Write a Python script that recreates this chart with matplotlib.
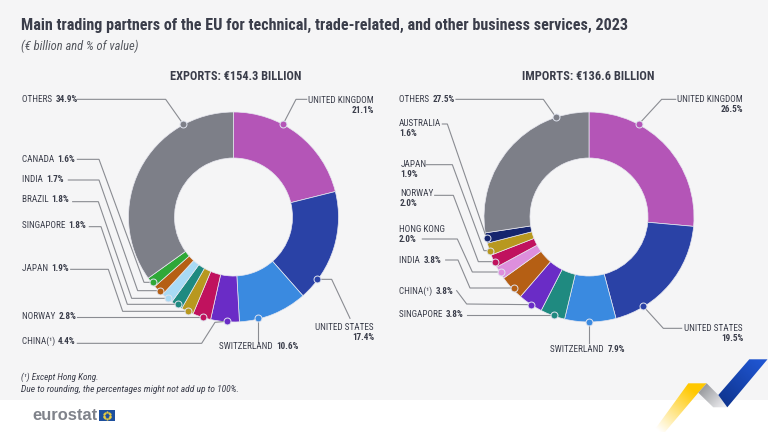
import matplotlib
matplotlib.use('Agg')
import matplotlib.pyplot as plt
from matplotlib import font_manager
from matplotlib.colors import to_rgb
from matplotlib.patches import Polygon, Rectangle
import numpy as np

# Datos
exp_labels = ['UNITED KINGDOM', 'UNITED STATES', 'SWITZERLAND', 'CHINA', 'NORWAY', 'JAPAN',
              'SINGAPORE', 'BRAZIL', 'INDIA', 'CANADA', 'OTHERS']
exp_values = [21.1, 17.4, 10.6, 4.4, 2.8, 1.9, 1.8, 1.8, 1.7, 1.6, 34.9]
exp_colors = ['#b455b7', '#2a42a6', '#3a8ae0', '#6a2cc6', '#c0125e', '#b8981f',
              '#1f8a80', '#a8daf5', '#b55f14', '#2fa838', '#7d7f88']

imp_labels = ['UNITED KINGDOM', 'UNITED STATES', 'SWITZERLAND', 'SINGAPORE', 'CHINA', 'INDIA',
              'HONG KONG', 'NORWAY', 'JAPAN', 'AUSTRALIA', 'OTHERS']
imp_values = [26.5, 19.5, 7.9, 3.8, 3.8, 3.8, 2.0, 2.0, 1.9, 1.6, 27.5]
imp_colors = ['#b455b7', '#2a42a6', '#3a8ae0', '#1f8a80', '#6a2cc6', '#b55f14',
              '#dd8fdc', '#c0125e', '#b8981f', '#16256e', '#7d7f88']

W, H = 768, 432
installed = {f.name for f in font_manager.fontManager.ttflist}
narrow = 'Lato'
for candidate in ['Roboto Condensed', 'Open Sans Condensed', 'Liberation Sans Narrow', 'Lato']:
    if candidate in installed:
        narrow = candidate
        break
plt.rcParams['font.family'] = [narrow, 'DejaVu Sans']
DARK = '#3a3d4a'
LINE = '#8a8c92'

fig = plt.figure(figsize=(W / 100, H / 100), dpi=100, facecolor='white')
renderer = fig.canvas.get_renderer()
page = fig.add_axes([0, 0, 1, 1])
page.set_xlim(0, W)
page.set_ylim(H, 0)
page.axis('off')
page.add_patch(Rectangle((0, 0), W, 400, color='#f5f5f6', lw=0))


def donut(cx, cy, values, colors):
    r = 105
    ax = fig.add_axes([(cx - r) / W, 1 - (cy + r) / H, 2 * r / W, 2 * r / H])
    ax.pie(values, colors=colors, startangle=90, counterclock=False, radius=1,
           wedgeprops=dict(width=46 / 105, edgecolor='#e8e8f0', linewidth=0.5))
    ax.set_xlim(-1, 1)
    ax.set_ylim(-1, 1)
    ax.set_zorder(1)


donut(233.5, 217, exp_values, exp_colors)
donut(589, 217, imp_values, imp_colors)

overlay = fig.add_axes([0, 0, 1, 1], zorder=2)
overlay.set_xlim(0, W)
overlay.set_ylim(H, 0)
overlay.axis('off')
overlay.patch.set_alpha(0)


def leader(points, color, off=0):
    xs = [off + p[0] / 3 for p in points]
    ys = [80 + p[1] / 3 for p in points]
    overlay.plot(xs, ys, color=LINE, lw=0.8, solid_joinstyle='miter', zorder=1)
    overlay.plot(xs[-1], ys[-1], 'o', ms=5, mfc=color, mec='#dfe3ee', mew=0.7, zorder=2)


# lineas guia (medidas sobre el zoom 3x)
exp_paths = {
    'UNITED KINGDOM': [(920, 58), (888, 58), (849, 133)],
    'UNITED STATES': [(1050, 715), (995, 598), (952, 598)],
    'SWITZERLAND': [(775, 785), (775, 715)],
    'CHINA': [(232, 790), (605, 790), (645, 727), (681, 724)],
    'NORWAY': [(232, 710), (608, 710)],
    'JAPAN': [(212, 568), (325, 568), (368, 694), (565, 694)],
    'SINGAPORE': [(268, 440), (303, 440), (382, 673), (535, 673)],
    'BRAZIL': [(218, 365), (295, 365), (395, 655), (505, 655)],
    'INDIA': [(205, 300), (297, 300), (413, 632), (479, 632)],
    'CANADA': [(232, 238), (297, 238), (432, 607), (458, 607)],
    'OTHERS': [(232, 58), (497, 58), (550, 133)],
}
imp_paths = {
    'UNITED KINGDOM': [(875, 58), (833, 58), (764, 133)],
    'UNITED STATES': [(893, 745), (838, 745), (778, 679)],
    'SWITZERLAND': [(615, 790), (615, 726)],
    'SINGAPORE': [(248, 704), (509, 704)],
    'CHINA': [(218, 632), (248, 672), (442, 674)],
    'INDIA': [(185, 540), (222, 540), (258, 624), (390, 624)],
    'HONG KONG': [(115, 477), (220, 477), (265, 576), (352, 576)],
    'NORWAY': [(152, 346), (208, 346), (283, 545), (333, 545)],
    'JAPAN': [(127, 254), (205, 254), (300, 512), (319, 512)],
    'AUSTRALIA': [(175, 132), (190, 132), (308, 475)],
    'OTHERS': [(216, 58), (478, 58), (516, 112)],
}
for lab, col in zip(exp_labels, exp_colors):
    leader(exp_paths[lab], col)
for lab, col in zip(imp_labels, imp_colors):
    leader(imp_paths[lab], col, off=384)


def fitted(x, y, text, width, **kw):
    # ajusta el tamano de letra al ancho medido en el original
    t = overlay.text(x, y, text, fontsize=10, va='center', **kw)
    t.set_fontsize(10 * width / t.get_window_extent(renderer).width)
    return t


probe = fitted(0, 0, 'UNITED KINGDOM', 66, color=DARK)
LABEL_FS = probe.get_fontsize()
probe.remove()


def pct(v):
    return f'{v:.1f}%'


def label(x, y, name, value):
    t = overlay.text(x, y, name + ' ', fontsize=LABEL_FS, color=DARK, va='center')
    x2 = x + t.get_window_extent(renderer).width
    overlay.text(x2 + 1.5, y, pct(value), fontsize=LABEL_FS, color=DARK, va='center', fontweight='bold')


def label2(x, y, name, value, ha='left'):
    overlay.text(x, y - 5, name, fontsize=LABEL_FS, color=DARK, ha=ha, va='center')
    overlay.text(x, y + 5, pct(value), fontsize=LABEL_FS, color=DARK, ha=ha, va='center', fontweight='bold')


exp_pos = {
    'OTHERS': (21.5, 100), 'CANADA': (21.5, 159.3), 'INDIA': (21.5, 180), 'BRAZIL': (21.5, 200),
    'SINGAPORE': (21.5, 226), 'JAPAN': (21.5, 268.7), 'NORWAY': (21.5, 316.7), 'CHINA': (21.5, 341.7),
    'SWITZERLAND': (219.3, 346.7),
}
for lab, v in zip(exp_labels, exp_values):
    if lab in exp_pos:
        x, y = exp_pos[lab]
        label(x, y, 'CHINA(¹)' if lab == 'CHINA' else lab, v)
label2(374, 105.7, 'UNITED KINGDOM', exp_values[0], ha='right')
label2(374, 332, 'UNITED STATES', exp_values[1], ha='right')

imp_pos = {
    'OTHERS': (399, 100), 'INDIA': (399, 260.3), 'CHINA': (399, 291.3),
    'SINGAPORE': (399, 314.3), 'SWITZERLAND': (550, 350),
}
for lab, v in zip(imp_labels, imp_values):
    if lab in imp_pos:
        x, y = imp_pos[lab]
        label(x, y, 'CHINA(¹)' if lab == 'CHINA' else lab, v)
label2(743, 105, 'UNITED KINGDOM', imp_values[0], ha='right')
label2(743, 333.5, 'UNITED STATES', imp_values[1], ha='right')
label2(399, 129, 'AUSTRALIA', imp_values[9])
label2(400.5, 169.8, 'JAPAN', imp_values[8])
label2(400, 198.3, 'NORWAY', imp_values[7])
label2(399, 235, 'HONG KONG', imp_values[6])

# titulos
fitted(21, 25, 'Main trading partners of the EU for technical, trade-related, and other business services, 2023',
       610, color=DARK, fontweight='bold')
fitted(21, 46, '(€ billion and % of value)', 117, color='#55585f', style='italic')
fitted(170, 76, 'EXPORTS: €154.3 BILLION', 131, color=DARK, fontweight='bold')
fitted(522, 76, 'IMPORTS: €136.6 BILLION', 132, color=DARK, fontweight='bold')
fitted(21, 377, '(¹) Except Hong Kong.', 77, color=DARK, style='italic')
fitted(21, 389, 'Due to rounding, the percentages might not add up to 100%.', 216, color=DARK, style='italic')

# logo
fitted(32, 416, 'eurostat', 65, color='#80838b', fontweight='bold', family='Liberation Sans')
overlay.add_patch(Rectangle((99, 410), 16, 11, color='#1d4f9e', lw=0))
ang = np.linspace(0, 2 * np.pi, 12, endpoint=False)
overlay.plot(107 + 3.2 * np.cos(ang), 415.5 + 3.2 * np.sin(ang), '.', ms=1.2, color='#f3d23a')


def ribbon(points, start, end, p0, p1):
    # poligono con degradado lineal entre p0 y p1
    xx, yy = np.meshgrid(np.arange(640, 769), np.arange(350, 433))
    d = np.array(p1) - np.array(p0)
    t = np.clip(((xx - p0[0]) * d[0] + (yy - p0[1]) * d[1]) / (d @ d), 0, 1)[..., None]
    c0 = np.array(start)
    c1 = np.array(end)
    im = overlay.imshow(c0 * (1 - t) + c1 * t, extent=(640, 769, 433, 350), aspect='auto',
                        interpolation='bilinear', zorder=3)
    im.set_clip_path(Polygon(points, transform=overlay.transData))


ribbon([(688.3, 383.3), (706.7, 383.3), (698.3, 392.7), (665, 432), (653, 432)],
       to_rgb('#ffc800'), to_rgb('#ffffff'), (695, 392), (660, 432))
ribbon([(706.7, 383.3), (718.3, 395), (727.3, 407.3), (713.3, 407.3), (698.3, 392.7)],
       to_rgb('#9a9ca0'), to_rgb('#ebebee'), (702, 388), (722, 407))
ribbon([(749.3, 359.3), (767.5, 359.3), (727.3, 407.3), (718.3, 395)],
       to_rgb('#1f55d0'), to_rgb('#0f3590'), (760, 362), (724, 404))
overlay.set_xlim(0, W)
overlay.set_ylim(H, 0)

fig.savefig('out.png', dpi=100)
